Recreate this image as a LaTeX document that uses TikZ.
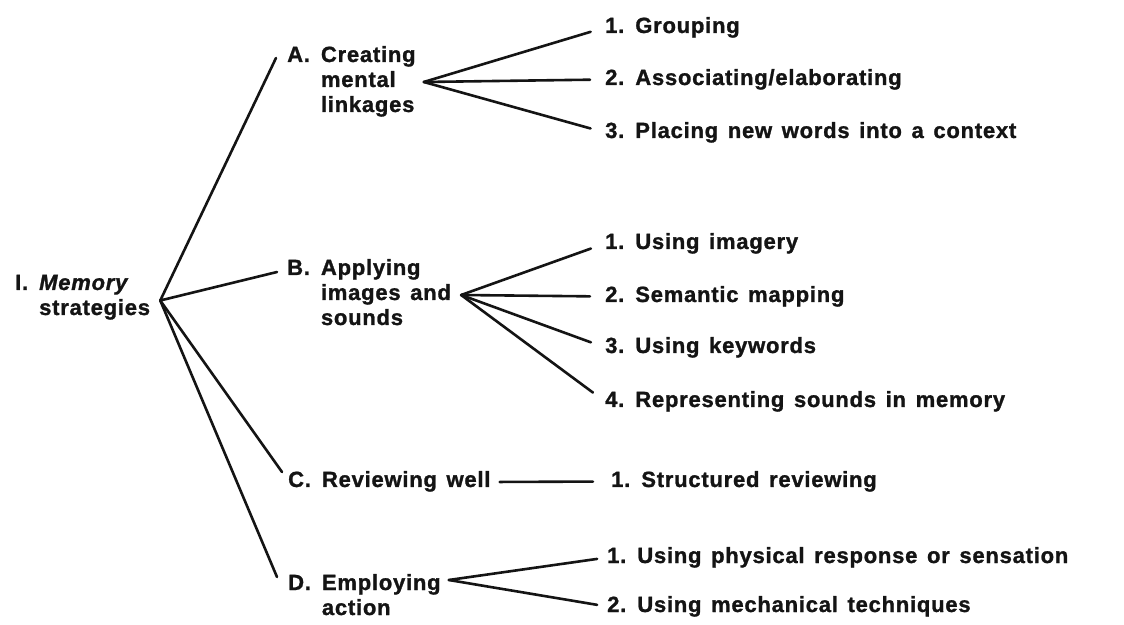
\documentclass[tikz,border=0pt]{standalone}
\usepackage{fontspec}
\setmainfont[LetterSpace=3.5,WordSpace=1.4,
  BoldFont={Liberation Sans Bold},BoldItalicFont={Liberation Sans Bold Italic},
  BoldFeatures={FakeBold=1.2},BoldItalicFeatures={FakeBold=1.2}]{Liberation Sans}
\usetikzlibrary{positioning}
\definecolor{paper}{HTML}{FFFFFF}
\definecolor{ink}{HTML}{141414}
% heading with hanging indent: label, then the lines of the text
\newcommand{\heading}[2]{\begin{tabular}[t]{@{}l@{\hspace{0.5em}}l@{}}#1 & #2\end{tabular}}

\begin{document}
\begin{tikzpicture}[x=1pt,y=1pt]
  \tikzstyle{hd}=[inner sep=0pt,anchor=base west,text=ink,font=\fontsize{22}{25}\selectfont\bfseries]
  \tikzstyle{sub}=[inner sep=0pt,anchor=base west,text=ink,text height=16pt,text depth=5pt,font=\fontsize{22}{25}\selectfont\bfseries]
  \tikzstyle{ln}=[draw=ink,line width=2.6pt,line cap=round]
  \fill[paper] (0,0) rectangle (1124,624);
  \useasboundingbox (0,0) rectangle (1124,624);

  \node[hd] (root) at (15,334) {\heading{I.}{\textit{Memory}\\&strategies}};
  \node[hd] (a) at (287,562) {\heading{A.}{Creating\\&mental\\&linkages}};
  \node[hd] (b) at (287,349) {\heading{B.}{Applying\\&images and\\&sounds}};
  \node[hd] (c) at (288,137) {\heading{C.}{Reviewing well}};
  \node[hd] (d) at (288,34) {\heading{D.}{Employing\\&action}};

  \node[sub] (a1) at (605,591) {1.\enspace Grouping};
  \node[sub] (a2) at (605,539) {2.\enspace Associating/elaborating};
  \node[sub] (a3) at (605,486) {3.\enspace Placing new words into a context};
  \node[sub] (b1) at (605,375) {1.\enspace Using imagery};
  \node[sub] (b2) at (605,322) {2.\enspace Semantic mapping};
  \node[sub] (b3) at (605,271) {3.\enspace Using keywords};
  \node[sub] (b4) at (605,217) {4.\enspace Representing sounds in memory};
  \node[sub] (c1) at (611,137) {1.\enspace Structured reviewing};
  \node[sub] (d1) at (607,61) {1.\enspace Using physical response or sensation};
  \node[sub] (d2) at (607,12) {2.\enspace Using mechanical techniques};

  % branching points
  \coordinate (rootH) at ([xshift=10pt,yshift=-3pt]root.east);
  \coordinate (aH) at ([xshift=8pt]a.east);
  \coordinate (bH) at ([xshift=10pt]b.east);
  \coordinate (dH) at ([shift={(8,10)}]d.base east);

  \draw[ln] (rootH) -- ([shift={(-11,4)}]a.base west);
  \draw[ln] (rootH) -- ([shift={(-10,3)}]b.base west);
  \draw[ln] (rootH) -- ([shift={(-6,15)}]c.base west);
  \draw[ln] (rootH) -- ([shift={(-11,13)}]d.base west);

  \foreach \k in {a1,a2,a3}
    \draw[ln,shorten >=15pt] (aH) -- (\k.west);
  \foreach \k in {b1,b2,b3,b4}
    \draw[ln,shorten >=15pt] (bH) -- (\k.west);
  \draw[ln,shorten <=9pt,shorten >=18pt] (c.east) -- (c1.west);
  \foreach \k in {d1,d2}
    \draw[ln,shorten >=10pt] (dH) -- (\k.west);
\end{tikzpicture}
\end{document}
